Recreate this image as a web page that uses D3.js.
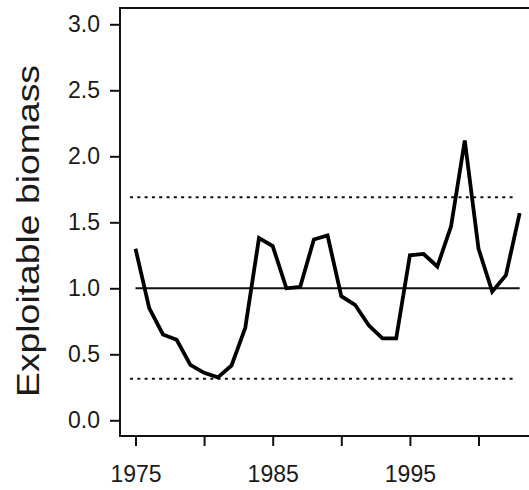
<!DOCTYPE html>
<html>
<head>
<meta charset="utf-8">
<script src="https://cdn.jsdelivr.net/npm/d3@7/dist/d3.min.js"></script>
<style>
  html, body { margin: 0; padding: 0; background: #fff; }
  svg { display: block; }
  text { font-family: "Liberation Sans", Arial, sans-serif; fill: #1a1a1a; }
</style>
</head>
<body>
<div id="chart"></div>
<script>
// data
const years = d3.range(1975, 2004);
const biomass = [1.30, 0.85, 0.65, 0.61, 0.42, 0.36, 0.325, 0.415, 0.70, 1.38,
                 1.32, 1.00, 1.01, 1.37, 1.40, 0.94, 0.875, 0.72, 0.62, 0.62,
                 1.25, 1.26, 1.165, 1.47, 2.12, 1.30, 0.975, 1.10, 1.57];
const solidRef = [1.0];
const dottedRef = [0.315, 1.69];
const yTicks = [0, 0.5, 1.0, 1.5, 2.0, 2.5, 3.0];
const xTicks = [1975, 1980, 1985, 1990, 1995, 2000];
const xLabels = [1975, 1985, 1995];

const W = 529, H = 490;
const box = {left: 120, top: 8, right: 540, bottom: 436};

const svg = d3.select("#chart")
    .append("svg")
    .attr("width", W)
    .attr("height", H);

const xScale = d3.scaleLinear().domain([1975, 2000]).range([135.5, 478.5]);
const yScale = d3.scaleLinear().domain([0, 3]).range([420.3, 24.3]);

// plot frame
svg.append("rect")
    .attr("x", box.left)
    .attr("y", box.top)
    .attr("width", box.right - box.left)
    .attr("height", box.bottom - box.top)
    .attr("fill", "none")
    .attr("stroke", "#111")
    .attr("stroke-width", 2);

// y axis
const yAxis = svg.append("g")
    .attr("transform", `translate(${box.left},0)`)
    .call(d3.axisLeft(yScale).tickValues(yTicks).tickFormat(d3.format(".1f")).tickSize(10).tickPadding(10));
yAxis.select(".domain").remove();
yAxis.selectAll(".tick line").attr("stroke", "#111").attr("stroke-width", 2);
yAxis.selectAll(".tick text").attr("font-size", 23).attr("fill", "#1a1a1a")
    .attr("font-family", "Liberation Sans, Arial, sans-serif");

// x axis
const xAxis = svg.append("g")
    .attr("transform", `translate(0,${box.bottom})`)
    .call(d3.axisBottom(xScale).tickValues(xTicks)
        .tickFormat(d => xLabels.includes(d) ? d : "").tickSize(10).tickPadding(20));
xAxis.select(".domain").remove();
xAxis.selectAll(".tick line").attr("stroke", "#111").attr("stroke-width", 2);
xAxis.selectAll(".tick text").attr("font-size", 23).attr("fill", "#1a1a1a")
    .attr("font-family", "Liberation Sans, Arial, sans-serif");

// y title
svg.append("text")
    .attr("transform", "translate(39,231) rotate(-90)")
    .attr("text-anchor", "middle")
    .attr("font-size", 32)
    .attr("textLength", 332)
    .attr("lengthAdjust", "spacingAndGlyphs")
    .text("Exploitable biomass");

const x0 = years[0], x1 = years[years.length - 1];

// reference lines
svg.selectAll(".ref-solid")
    .data(solidRef)
    .enter()
    .append("line")
    .attr("x1", xScale(x0)).attr("x2", xScale(x1))
    .attr("y1", d => yScale(d)).attr("y2", d => yScale(d))
    .attr("stroke", "#111")
    .attr("stroke-width", 2);

svg.selectAll(".ref-dot")
    .data(dottedRef)
    .enter()
    .append("line")
    .attr("x1", xScale(x0 - 0.4)).attr("x2", xScale(x1 - 0.3))
    .attr("y1", d => yScale(d)).attr("y2", d => yScale(d))
    .attr("stroke", "#111")
    .attr("stroke-width", 2)
    .attr("stroke-dasharray", "3,4.3");

// biomass series
const line = d3.line()
    .x((d, i) => xScale(years[i]))
    .y(d => yScale(d));

svg.append("path")
    .datum(biomass)
    .attr("fill", "none")
    .attr("stroke", "#000")
    .attr("stroke-width", 3.8)
    .attr("stroke-linejoin", "miter")
    .attr("d", line);
</script>
</body>
</html>
